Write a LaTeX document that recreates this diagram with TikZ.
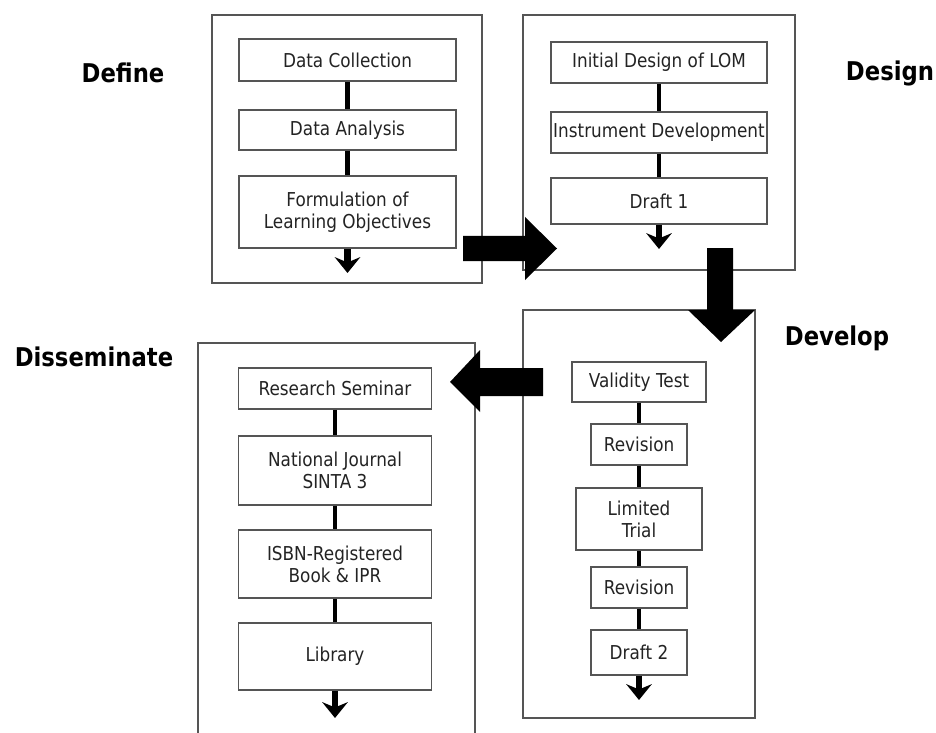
\documentclass[tikz,border=0pt]{standalone}
\usepackage{fontspec}
\setmainfont{DejaVu Sans}[FakeStretch=0.88]
\usetikzlibrary{arrows.meta}
\definecolor{edgegray}{RGB}{85,85,85}
\definecolor{textgray}{RGB}{35,35,35}

\begin{document}
\begin{tikzpicture}[
  x=0.02cm, y=-0.02cm,
  panel/.style={rectangle, draw=edgegray, line width=0.9pt},
  block/.style={rectangle, draw=edgegray, line width=0.9pt, inner sep=0pt, align=center, text=textgray, font=\fontsize{10.9}{12.5}\selectfont},
  phase/.style={font=\fontsize{14.7}{17}\selectfont\bfseries},
  link/.style={line width=2.8pt},
  tip/.style={line width=3.6pt, -{Stealth[length=9pt, width=14.5pt, inset=3pt]}},
  bigarrow/.style={fill=black}
]
  \useasboundingbox (0,0) rectangle (936,733);

  % panels
  \node[panel, minimum width=5.4cm, minimum height=5.36cm] (define) at (347,149) {};
  \node[panel, minimum width=5.44cm, minimum height=5.1cm] (design) at (659,142.5) {};
  \node[panel, minimum width=4.64cm, minimum height=8.16cm] (develop) at (639,514) {};
  \node[panel, minimum width=5.54cm, minimum height=8.34cm] (dissem) at (336.5,551.5) {};

  \node[phase] (l-define) at (123,73) {Define};
  \node[phase] (l-design) at (890,73) {Design};
  \node[phase] (l-develop) at (837,338) {Develop};
  \node[phase] (l-dissem) at (94,357) {Disseminate};

  % Define
  \node[block, minimum width=4.34cm, minimum height=0.84cm] (dc) at (347.5,60) {Data Collection};
  \node[block, minimum width=4.34cm, minimum height=0.8cm] (da) at (347.5,130) {Data Analysis};
  \node[block, minimum width=4.34cm, minimum height=1.44cm] (flo) at (347.5,212) {Formulation of\\Learning Objectives};
  \coordinate (flo-end) at (347.5,273);

  % Design
  \node[block, minimum width=4.32cm, minimum height=0.82cm] (idl) at (659,62.5) {Initial Design of LOM};
  \node[block, minimum width=4.32cm, minimum height=0.82cm] (ins) at (659,132.5) {Instrument Development};
  \node[block, minimum width=4.32cm, minimum height=0.92cm] (dr1) at (659,201) {Draft 1};
  \coordinate (dr1-end) at (659,249);

  % Develop
  \node[block, minimum width=2.68cm, minimum height=0.8cm] (vt) at (639,382) {Validity Test};
  \node[block, minimum width=1.92cm, minimum height=0.82cm] (rv1) at (639,444.5) {Revision};
  \node[block, minimum width=2.52cm, minimum height=1.24cm] (lt) at (639,519) {Limited\\Trial};
  \node[block, minimum width=1.92cm, minimum height=0.82cm] (rv2) at (639,587.5) {Revision};
  \node[block, minimum width=1.92cm, minimum height=0.9cm] (dr2) at (639,652.5) {Draft 2};
  \coordinate (dr2-end) at (639,700);

  % Disseminate
  \node[block, minimum width=3.86cm, minimum height=0.82cm] (rs) at (335,388.5) {Research Seminar};
  \node[block, minimum width=3.86cm, minimum height=1.38cm] (nj) at (335,470.5) {National Journal\\SINTA 3};
  \node[block, minimum width=3.86cm, minimum height=1.36cm] (isbn) at (335,564) {ISBN-Registered\\Book \& IPR};
  \node[block, minimum width=3.86cm, minimum height=1.34cm] (lib) at (335,656.5) {Library};
  \coordinate (lib-end) at (335,718);

  \draw[link] (dc) -- (da);
  \draw[link] (da) -- (flo);
  \draw[tip] (flo) -- (flo-end);

  \draw[link] (idl) -- (ins);
  \draw[link] (ins) -- (dr1);
  \draw[tip] (dr1) -- (dr1-end);

  \draw[link] (vt) -- (rv1);
  \draw[link] (rv1) -- (lt);
  \draw[link] (lt) -- (rv2);
  \draw[link] (rv2) -- (dr2);
  \draw[tip] (dr2) -- (dr2-end);

  \draw[link] (rs) -- (nj);
  \draw[link] (nj) -- (isbn);
  \draw[link] (isbn) -- (lib);
  \draw[tip] (lib) -- (lib-end);

  % block arrows between phases
  \fill[bigarrow] (463,236) -- (525,236) -- (525,217) -- (557,248.5) -- (525,280) -- (525,261) -- (463,261) -- cycle;
  \fill[bigarrow] (707,248) -- (733,248) -- (733,310) -- (755,310) -- (721,342) -- (688,310) -- (707,310) -- cycle;
  \fill[bigarrow] (543,368) -- (480,368) -- (480,350) -- (450,382) -- (480,412) -- (480,396) -- (543,396) -- cycle;
\end{tikzpicture}
\end{document}
